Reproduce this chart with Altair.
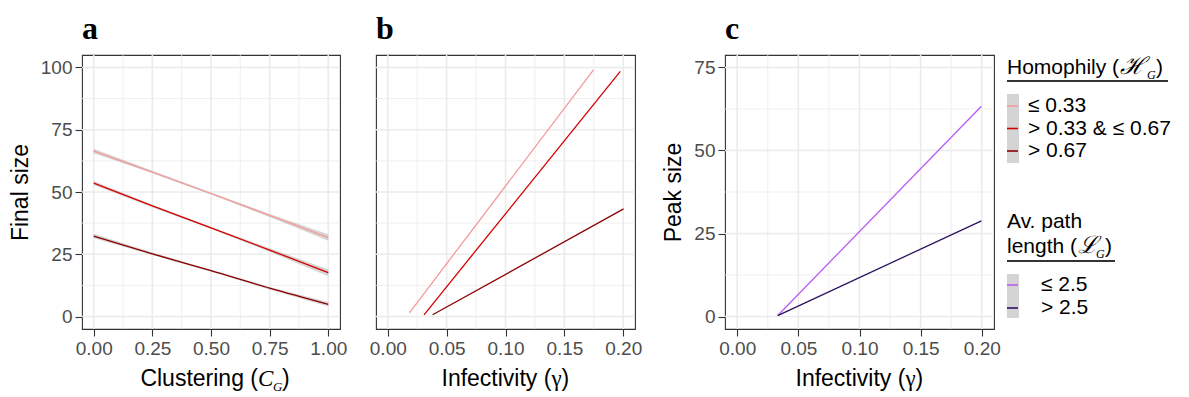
import altair as alt
import pandas as pd

# ---------------- data ----------------
hom_labels = ["≤ 0.33", "> 0.33 & ≤ 0.67", "> 0.67"]
hom_colors = ["#F59A9A", "#D40000", "#8B0000"]
path_labels = ["≤ 2.5", "> 2.5"]
path_colors = ["#B75CF2", "#2C115F"]

# panel a: final size vs clustering (smoothed fits with confidence ribbons)
clust_x = [0.0, 0.25, 0.5, 0.75, 1.0]
a_y_low = [66.5, 58.0, 49.4, 40.6, 31.7]
a_lo_low = [65.6, 57.5, 49.0, 40.0, 30.4]
a_hi_low = [67.4, 58.5, 49.8, 41.2, 33.0]
a_y_mid = [53.6, 44.4, 35.6, 26.7, 17.6]
a_lo_mid = [52.8, 43.9, 35.2, 26.0, 16.2]
a_hi_mid = [54.4, 44.9, 36.0, 27.4, 19.0]
a_y_high = [32.3, 25.2, 18.4, 11.4, 4.9]
a_lo_high = [31.4, 24.7, 18.0, 10.9, 4.0]
a_hi_high = [33.2, 25.7, 18.8, 11.9, 5.8]

# panel b: final size vs infectivity
b_x_low = [0.0184, 0.1749]
b_y_low = [1.5, 99.1]
b_x_mid = [0.0308, 0.1975]
b_y_mid = [0.7, 98.4]
b_x_high = [0.0381, 0.2003]
b_y_high = [0.7, 43.2]

# panel c: peak size vs infectivity
c_x_short = [0.0331, 0.1997]
c_y_short = [0.3, 63.3]
c_x_long = [0.0331, 0.1997]
c_y_long = [0.3, 28.8]

# ticks / gridlines
a_x_major = [0.0, 0.25, 0.5, 0.75, 1.0]
a_x_minor = [0.125, 0.375, 0.625, 0.875]
g_x_major = [0.0, 0.05, 0.10, 0.15, 0.20]
g_x_minor = [0.025, 0.075, 0.125, 0.175]
f_y_major = [0, 25, 50, 75, 100]
f_y_minor = [12.5, 37.5, 62.5, 87.5]
p_y_major = [0, 25, 50, 75]
p_y_minor = [12.5, 37.5, 62.5]

# ---------------- styling ----------------
H = 274
W_A, W_B, W_C, W_L = 258, 259, 269, 182
GRID = "#EBEBEB"
SANS = "Liberation Sans"
SERIF = "Liberation Serif"

XA = alt.Scale(domain=[-0.05, 1.05], nice=False, zero=False)
YF = alt.Scale(domain=[-5, 105], nice=False, zero=False)
XG = alt.Scale(domain=[-0.01, 0.21], nice=False, zero=False)
YP = alt.Scale(domain=[-3.75, 78.75], nice=False, zero=False)

AX_A = alt.Axis(values=a_x_major, format=".2f", title=None)
AY_F = alt.Axis(values=f_y_major, format="d", title="Final size")
AX_G = alt.Axis(values=g_x_major, format=".2f", title=None)
AY_P = alt.Axis(values=p_y_major, format="d", title="Peak size")


def frame(xs, ys, grp, cols, labels, lo=None, hi=None):
    d = {"x": xs, "y": ys}
    if lo is not None:
        d["lo"] = lo
        d["hi"] = hi
    df = pd.DataFrame(d)
    df["grp"] = labels[grp]
    df["col"] = cols[grp]
    return df


def grid_layers(xmaj, xmin, ymaj, ymin, xs, ys, xa, ya):
    out = []
    for vals, w in ((xmin, 0.8), (xmaj, 1.6)):
        out.append(
            alt.Chart(pd.DataFrame({"v": vals}))
            .mark_rule(color=GRID, strokeWidth=w)
            .encode(x=alt.X("v:Q", scale=xs, axis=xa))
        )
    for vals, w in ((ymin, 0.8), (ymaj, 1.6)):
        if ya is None:
            enc = alt.Y("v:Q", scale=ys, axis=None)
        else:
            enc = alt.Y("v:Q", scale=ys, axis=ya)
        out.append(
            alt.Chart(pd.DataFrame({"v": vals}))
            .mark_rule(color=GRID, strokeWidth=w)
            .encode(y=enc)
        )
    return out


def txt(s, x, y, size=21, font=SANS, style="normal", align="left",
        baseline="alphabetic", color="black", weight="normal"):
    return (
        alt.Chart(pd.DataFrame({"t": [s]}))
        .mark_text(align=align, baseline=baseline, font=font, fontSize=size,
                   fontStyle=style, fontWeight=weight, color=color)
        .encode(text="t:N", x=alt.value(x), y=alt.value(y))
    )


def panel_title(s):
    return alt.TitleParams(text=s, anchor="start", frame="group", font=SERIF,
                           fontSize=32, fontWeight="bold", color="black",
                           offset=8)


TY = H + 57


def infect_title(w):
    x0 = w / 2 - 64
    return [
        txt("Infectivity (", x0, TY, size=23),
        txt("γ", x0 + 110, TY, size=23, font=SERIF),
        txt(")", x0 + 120, TY, size=23),
    ]


# ---------------- panel a ----------------
dfa = pd.concat([
    frame(clust_x, a_y_low, 0, hom_colors, hom_labels, a_lo_low, a_hi_low),
    frame(clust_x, a_y_mid, 1, hom_colors, hom_labels, a_lo_mid, a_hi_mid),
    frame(clust_x, a_y_high, 2, hom_colors, hom_labels, a_lo_high, a_hi_high),
])
band_a = alt.Chart(dfa).mark_area(color="#999999", opacity=0.4).encode(
    x=alt.X("x:Q", scale=XA, axis=AX_A),
    y=alt.Y("lo:Q", scale=YF, axis=AY_F),
    y2="hi:Q",
    detail="grp:N",
)
line_a = alt.Chart(dfa).mark_line(strokeWidth=1.3, interpolate="monotone").encode(
    x=alt.X("x:Q", scale=XA, axis=AX_A),
    y=alt.Y("y:Q", scale=YF, axis=AY_F),
    color=alt.Color("col:N", scale=None),
    detail="grp:N",
)
xtitle_a = [
    txt("Clustering (", 176, TY, size=23, align="right"),
    txt("C", 176, TY, size=23, font=SERIF, style="italic"),
    txt("G", 191, TY + 5, size=13, font=SERIF, style="italic"),
    txt(")", 200, TY, size=23),
]
panel_a = alt.layer(
    *grid_layers(a_x_major, a_x_minor, f_y_major, f_y_minor, XA, YF, AX_A, AY_F),
    band_a, line_a, *xtitle_a,
).properties(width=W_A, height=H, title=panel_title("a"))

# ---------------- panel b ----------------
dfb = pd.concat([
    frame(b_x_low, b_y_low, 0, hom_colors, hom_labels),
    frame(b_x_mid, b_y_mid, 1, hom_colors, hom_labels),
    frame(b_x_high, b_y_high, 2, hom_colors, hom_labels),
])
line_b = alt.Chart(dfb).mark_line(strokeWidth=1.3).encode(
    x=alt.X("x:Q", scale=XG, axis=AX_G),
    y=alt.Y("y:Q", scale=YF, axis=None),
    color=alt.Color("col:N", scale=None),
    detail="grp:N",
)
panel_b = alt.layer(
    *grid_layers(g_x_major, g_x_minor, f_y_major, f_y_minor, XG, YF, AX_G, None),
    line_b, *infect_title(W_B),
).properties(width=W_B, height=H, title=panel_title("b"))

# ---------------- panel c ----------------
dfc = pd.concat([
    frame(c_x_short, c_y_short, 0, path_colors, path_labels),
    frame(c_x_long, c_y_long, 1, path_colors, path_labels),
])
line_c = alt.Chart(dfc).mark_line(strokeWidth=1.3).encode(
    x=alt.X("x:Q", scale=XG, axis=AX_G),
    y=alt.Y("y:Q", scale=YP, axis=AY_P),
    color=alt.Color("col:N", scale=None),
    detail="grp:N",
)
panel_c = alt.layer(
    *grid_layers(g_x_major, g_x_minor, p_y_major, p_y_minor, XG, YP, AX_G, AY_P),
    line_c, *infect_title(W_C),
).properties(width=W_C, height=H, title=panel_title("c"))

# ---------------- legend panel ----------------
L0 = 13
KEY = "#D4D4D4"


def key_block(labels, cols, y_top, y_bot, y_first, y_last, label_x):
    df = pd.DataFrame({"label": labels, "col": cols})
    ysc = alt.Scale(type="point", domain=labels, range=[y_first, y_last], padding=0)
    rect = alt.Chart(pd.DataFrame({"k": [0]})).mark_rect(color=KEY).encode(
        x=alt.value(L0), x2=alt.value(L0 + 12),
        y=alt.value(y_top), y2=alt.value(y_bot),
    )
    dash = alt.Chart(df).mark_rule(strokeWidth=1.6).encode(
        x=alt.value(L0), x2=alt.value(L0 + 11),
        y=alt.Y("label:N", scale=ysc, axis=None),
        color=alt.Color("col:N", scale=None),
    )
    lab = alt.Chart(df).mark_text(align="left", baseline="middle", font=SANS,
                                  fontSize=21, color="black").encode(
        x=alt.value(label_x),
        y=alt.Y("label:N", scale=ysc, axis=None),
        text="label:N",
    )
    return [rect, dash, lab]


def underline(x2, y):
    return alt.Chart(pd.DataFrame({"k": [0]})).mark_rule(
        color="#333333", strokeWidth=2
    ).encode(x=alt.value(L0), x2=alt.value(x2), y=alt.value(y))


leg_layers = [
    txt("Homophily (", L0, 19),
    txt("ℋ", L0 + 113, 19, size=24, font=SERIF, style="italic"),
    txt("G", L0 + 140, 24, size=12, font=SERIF, style="italic"),
    txt(")", L0 + 149, 19),
    underline(L0 + 161, 26),
    *key_block(hom_labels, hom_colors, 39, 108, 51, 96, L0 + 21),
    txt("Av. path", L0, 173),
    txt("length (", L0, 198),
    txt("ℒ", L0 + 71, 198, size=24, font=SERIF, style="italic"),
    txt("G", L0 + 89, 203, size=12, font=SERIF, style="italic"),
    txt(")", L0 + 98, 198),
    underline(L0 + 108, 206),
    *key_block(path_labels, path_colors, 219, 263, 230, 253, L0 + 34),
]
legend = alt.layer(*leg_layers).resolve_scale(y="independent").properties(
    width=W_L, height=H, view=alt.ViewBackground(stroke="transparent")
)


def spacer(w):
    return alt.Chart(pd.DataFrame({"s": [0]})).mark_point(opacity=0).encode(
        x=alt.value(0), y=alt.value(0)
    ).properties(width=w, height=H, view=alt.ViewBackground(stroke="transparent"))


chart = (
    alt.hconcat(panel_a, spacer(36), panel_b, spacer(90), panel_c, legend,
                spacing=0, bounds="flush")
    .properties(padding={"left": 0, "top": 4, "right": 0, "bottom": 0})
    .configure_view(stroke="#333333", strokeWidth=1.1)
    .configure_axis(
        domain=False, grid=False,
        tickColor="#333333", tickSize=7, tickWidth=1.1,
        labelColor="#4D4D4D", labelFont=SANS, labelFontSize=19,
        labelPadding=3, labelFlush=False, labelOverlap=False,
        titleFont=SANS, titleFontSize=23, titleFontWeight="normal",
        titleColor="black", titlePadding=8,
    )
)

chart.save("out.html", embed_options={"renderer": "svg", "actions": False})
